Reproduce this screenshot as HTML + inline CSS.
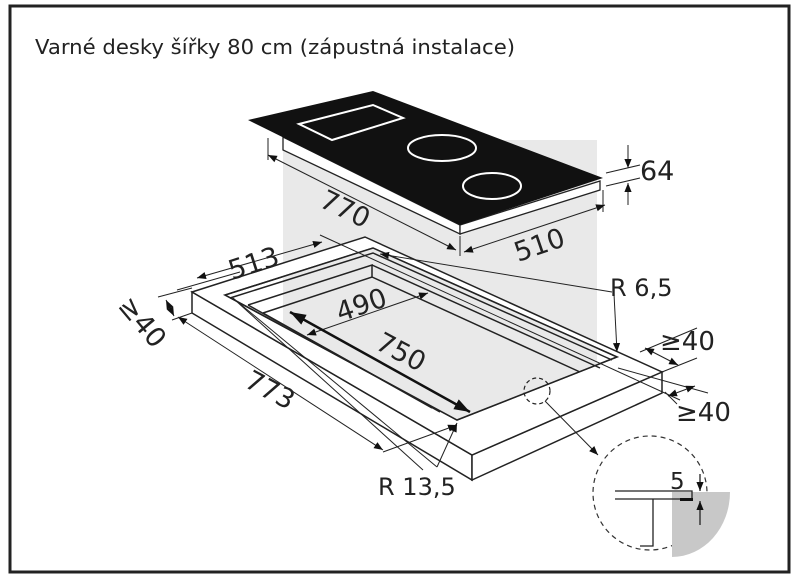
<!DOCTYPE html>
<html><head><meta charset="utf-8"><style>
html,body{margin:0;padding:0;background:#fff}
svg{display:block}
text{font-family:"DejaVu Sans","Liberation Sans",sans-serif;fill:#222}
</style></head><body>
<svg width="800" height="579" viewBox="0 0 800 579" xmlns="http://www.w3.org/2000/svg">
<defs>
<marker id="a" viewBox="0 0 10 10" refX="10" refY="5" markerWidth="9" markerHeight="9" markerUnits="userSpaceOnUse" orient="auto-start-reverse"><path d="M0,1 L10,5 L0,9 Z" fill="#111"/></marker>
<marker id="b" viewBox="0 0 10 10" refX="10" refY="5" markerWidth="16" markerHeight="16" markerUnits="userSpaceOnUse" orient="auto-start-reverse"><path d="M0,1.5 L10,5 L0,8.5 Z" fill="#111"/></marker>
<clipPath id="gc"><rect x="283" y="140" width="314" height="300"/></clipPath>
</defs>
<rect x="10" y="6" width="779" height="566" fill="#fff" stroke="#222" stroke-width="3"/>
<text x="35" y="54" font-size="20" textLength="480" lengthAdjust="spacingAndGlyphs" fill="#333">Varné desky šířky 80 cm (zápustná instalace)</text>

<!-- gray shade -->
<rect x="283" y="140" width="314" height="225" fill="#e9e9e9"/>

<!-- hob -->
<polygon points="283,137 460,225 460,234 283,150" fill="#fff" stroke="#222" stroke-width="1.3"/>
<polygon points="460,225 600,181 600,190 460,234" fill="#fff" stroke="#222" stroke-width="1.3"/>
<polygon points="248,120 373,91 603,178 460,225" fill="#111"/>
<polygon points="299,124 373,105 403,118 332,140" fill="none" stroke="#fff" stroke-width="2"/>
<ellipse cx="442" cy="148" rx="34" ry="13" fill="none" stroke="#fff" stroke-width="2"/>
<ellipse cx="492" cy="186" rx="29" ry="13" fill="none" stroke="#fff" stroke-width="2"/>

<!-- hob dims -->
<g stroke="#222" stroke-width="1" fill="none">
<line x1="268" y1="138" x2="268" y2="160"/>
<line x1="460" y1="236" x2="460" y2="256"/>
<line x1="268" y1="155" x2="456" y2="250" marker-start="url(#a)" marker-end="url(#a)"/>
<line x1="603" y1="190" x2="603" y2="212"/>
<line x1="464" y1="252" x2="605" y2="205" marker-start="url(#a)" marker-end="url(#a)"/>
<line x1="606" y1="173" x2="640" y2="165"/>
<line x1="606" y1="186" x2="640" y2="178"/>
<line x1="628" y1="145" x2="628" y2="168" marker-end="url(#a)"/>
<line x1="628" y1="205" x2="628" y2="183" marker-end="url(#a)"/>
</g>
<g font-size="27">
<text transform="translate(318,206) rotate(26)">770</text>
<text transform="translate(518,262) rotate(-19)">510</text>
<text x="640" y="180">64</text>
</g>

<!-- frame -->
<polygon points="192,292 472,455 472,480 192,313" fill="#fff" stroke="#222" stroke-width="1.5"/>
<polygon points="472,455 662,372 662,393 472,480" fill="#fff" stroke="#222" stroke-width="1.5"/>
<path d="M192,292 L365,237 L662,372 L472,455 Z M225,295 L457,420 L617,357 L373,248 Z" fill="#fff" fill-rule="evenodd" stroke="#222" stroke-width="1.5"/>
<polygon points="225,295 457,420 617,357 373,248" fill="#e9e9e9" clip-path="url(#gc)"/>
<polygon points="225,295 457,420 617,357 373,248" fill="none" stroke="#222" stroke-width="1.5"/>
<g stroke="#222" stroke-width="1.5" fill="none">
<polyline points="230,298 373,253 612,360"/>
<polyline points="248,305 372,265 372,277"/>
<line x1="372" y1="265" x2="600" y2="368"/>
<polyline points="263,313 372,277 580,372"/>
<line x1="248" y1="305" x2="440" y2="412"/>
<line x1="263" y1="313" x2="432" y2="408"/>
</g>
<circle cx="537" cy="391" r="13" fill="none" stroke="#222" stroke-width="1.2" stroke-dasharray="4,3"/>

<!-- frame dims -->
<g stroke="#222" stroke-width="1" fill="none">
<line x1="322" y1="242" x2="197" y2="278" marker-start="url(#a)" marker-end="url(#a)"/>
<line x1="320" y1="235" x2="680" y2="400"/>
<line x1="177" y1="290" x2="240" y2="272"/>
<line x1="428" y1="293" x2="307" y2="335" marker-start="url(#a)" marker-end="url(#a)"/>
<line x1="178" y1="317" x2="383" y2="450" marker-start="url(#a)" marker-end="url(#a)"/>
<line x1="383" y1="452" x2="457" y2="425" marker-end="url(#a)"/>
<line x1="233" y1="298" x2="437" y2="467"/>
<line x1="235" y1="300" x2="423" y2="470"/>
<line x1="437" y1="467" x2="457" y2="423" marker-end="url(#a)"/>
<line x1="380" y1="254" x2="612" y2="292" marker-start="url(#a)"/>
<line x1="614" y1="294" x2="617" y2="352" marker-end="url(#a)"/>
<line x1="158" y1="297" x2="192" y2="288"/>
<line x1="172" y1="320" x2="192" y2="313"/>
<line x1="166" y1="300" x2="174" y2="316" marker-start="url(#a)" marker-end="url(#a)"/>
<line x1="640" y1="352" x2="697" y2="328"/>
<line x1="662" y1="372" x2="697" y2="358"/>
<line x1="645" y1="348" x2="678" y2="365" marker-start="url(#a)" marker-end="url(#a)"/>
<line x1="618" y1="368" x2="708" y2="393"/>
<line x1="665" y1="392" x2="677" y2="404"/>
<line x1="668" y1="396" x2="695" y2="386" marker-start="url(#a)" marker-end="url(#a)"/>
<line x1="545" y1="401" x2="598" y2="455" marker-end="url(#a)"/>
</g>
<line x1="290" y1="312" x2="470" y2="412" stroke="#111" stroke-width="2.5" marker-start="url(#b)" marker-end="url(#b)"/>
<g font-size="27">
<text transform="translate(232,280) rotate(-18)">513</text>
<text transform="translate(340,322) rotate(-19)">490</text>
<text transform="translate(374,348) rotate(28)">750</text>
<text transform="translate(243,386) rotate(28)">773</text>
<text transform="translate(117,306) rotate(50)">≥40</text>
</g>
<g font-size="24">
<text x="610" y="296">R 6,5</text>
<text x="378" y="495">R 13,5</text>
<text x="660" y="350" font-size="26">≥40</text>
<text x="676" y="421" font-size="26">≥40</text>
</g>

<!-- detail -->
<circle cx="650" cy="493" r="57" fill="none" stroke="#333" stroke-width="1.2" stroke-dasharray="5,4"/>
<path d="M672,492 H730 A58,65 0 0 1 672,557 Z" fill="#c8c8c8"/>
<g stroke="#222" stroke-width="1.3" fill="none">
<path d="M615,491 H692 V499 H615"/>
<polyline points="653,499 653,546 640,546"/>
<line x1="700" y1="474" x2="700" y2="491" marker-end="url(#a)"/>
<line x1="700" y1="525" x2="700" y2="501" marker-end="url(#a)"/>
</g>
<rect x="680" y="498" width="13" height="3" fill="#111"/>
<text x="670" y="489" font-size="23">5</text>
</svg>
</body></html>
